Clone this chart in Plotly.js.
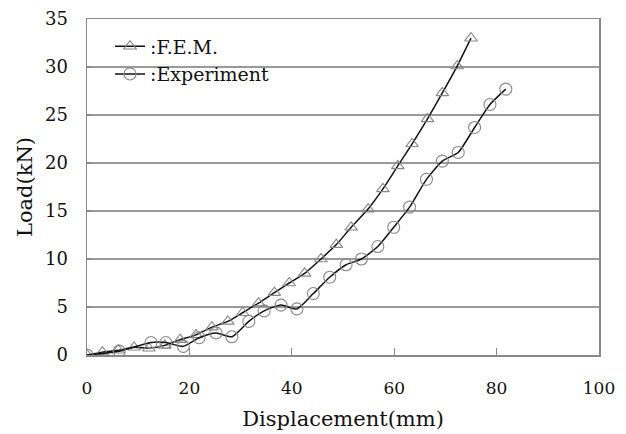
<!DOCTYPE html>
<html>
<head>
<meta charset="utf-8">
<script src="https://cdn.plot.ly/plotly-3.0.1.min.js"></script>
<style>html,body{margin:0;padding:0;background:#fff;}#chart{width:626px;height:434px;}</style>
</head>
<body>
<div id="chart"></div>
<script>
const femX = [0, 3, 6.1, 9.2, 12.1, 15.2, 18.2, 21.3, 24.4, 27.5, 30.4, 33.5, 36.6, 39.5, 42.5, 45.7, 48.7, 51.6, 54.9, 57.8, 60.7, 63.5, 66.5, 69.4, 72.3, 75.0];
const femY = [0, 0.3, 0.5, 0.8, 0.7, 1.0, 1.6, 2.1, 2.9, 3.5, 4.4, 5.4, 6.5, 7.5, 8.5, 10.0, 11.5, 13.3, 15.2, 17.3, 19.7, 22.0, 24.6, 27.3, 30.1, 33.0];
const expX = [0, 6.3, 12.5, 15.4, 18.8, 21.9, 25.2, 28.3, 31.6, 34.6, 37.9, 41.0, 44.2, 47.4, 50.6, 53.6, 56.8, 59.9, 63.0, 66.3, 69.4, 72.5, 75.7, 78.7, 81.8];
const expY = [0, 0.4, 1.3, 1.3, 0.9, 1.8, 2.3, 1.9, 3.5, 4.6, 5.2, 4.8, 6.4, 8.1, 9.4, 10.0, 11.3, 13.3, 15.4, 18.3, 20.2, 21.1, 23.7, 26.1, 27.7];
const seriesNames = [':F.E.M.', ':Experiment'];
const xTicks = [0, 20, 40, 60, 80, 100];
const yTicks = [0, 5, 10, 15, 20, 25, 30, 35];

const font = 'DejaVu Serif';
const traces = [
  {x: femX, y: femY, name: seriesNames[0], type: 'scatter', mode: 'lines+markers',
   line: {color: '#111', width: 1.5, shape: 'spline', smoothing: 0.6},
   marker: {symbol: 'triangle-up-open', size: 11, color: '#888', line: {width: 1.1}}},
  {x: expX, y: expY, name: seriesNames[1], type: 'scatter', mode: 'lines+markers',
   line: {color: '#111', width: 1.5, shape: 'spline', smoothing: 0.6},
   marker: {symbol: 'circle-open', size: 12, color: '#888', line: {width: 1.1}}}
];
const layout = {
  width: 626, height: 434,
  margin: {l: 87, r: 27, t: 19, b: 79},
  paper_bgcolor: '#fff', plot_bgcolor: '#fff',
  font: {family: font, size: 17, color: '#111'},
  showlegend: true,
  legend: {x: 0.045, y: 0.975, xanchor: 'left', yanchor: 'top', bgcolor: 'rgba(0,0,0,0)',
           font: {family: font, size: 19, color: '#111'}, itemwidth: 30, tracegroupgap: 0},
  xaxis: {range: [0, 100], tickvals: xTicks, ticktext: xTicks.map(String),
          ticks: 'inside', ticklen: 7, tickcolor: '#888', tickwidth: 1.2,
          showline: true, linecolor: '#888', linewidth: 1.5, mirror: true,
          showgrid: false, zeroline: false, ticklabelstandoff: 17,
          title: {text: 'Displacement(mm)', font: {family: font, size: 21}, standoff: 14}},
  yaxis: {range: [0, 35], tickvals: yTicks, ticktext: yTicks.map(String),
          ticks: 'inside', ticklen: 4, tickcolor: '#888', tickwidth: 1.2,
          showline: true, linecolor: '#888', linewidth: 1.5, mirror: true,
          showgrid: true, gridcolor: '#999', gridwidth: 1.5, zeroline: false, ticklabelstandoff: 14,
          tickfont: {size: 18},
          title: {text: 'Load(kN)', font: {family: font, size: 21}, standoff: 6}}
};
Plotly.newPlot('chart', traces, layout, {displayModeBar: false, staticPlot: true});
</script>
</body>
</html>
